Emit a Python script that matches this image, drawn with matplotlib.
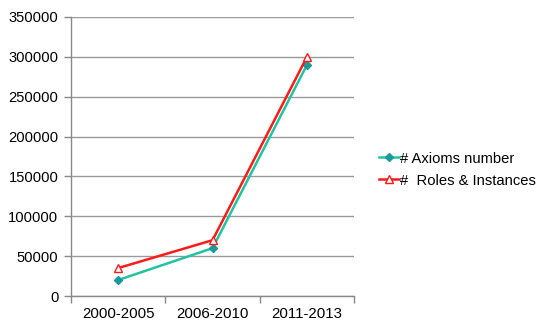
import matplotlib
matplotlib.use("Agg")
import matplotlib.pyplot as plt
from matplotlib.ticker import FixedLocator, NullFormatter

plt.rcParams['font.family'] = ['Liberation Sans', 'DejaVu Sans']

categories = ["2000-2005", "2006-2010", "2011-2013"]
axioms = [20000, 60000, 290000]
roles = [35000, 70000, 300000]
yticks = [0, 50000, 100000, 150000, 200000, 250000, 300000, 350000]

fig = plt.figure(figsize=(5.45, 3.2), dpi=100)
ax = fig.add_axes([0.130, 0.075, 0.520, 0.872])

x = list(range(len(categories)))
ax.plot(x, axioms, color='#22C4A0', lw=1.8, marker='D', ms=4,
        markerfacecolor='#1A9A9A', markeredgecolor='#1A9A9A',
        label='# Axioms number', zorder=3)
ax.plot(x, roles, color='#FF1A1A', lw=1.8, marker='^', ms=6,
        markerfacecolor='white', markeredgecolor='#FF1A1A',
        label='#  Roles & Instances', zorder=3)

ax.set_xlim(-0.5, len(categories) - 0.5)
ax.set_ylim(0, 350000)
ax.set_yticks(yticks)
ax.set_yticklabels([str(v) for v in yticks], fontsize=10.6)
ax.set_xticks(x)
ax.set_xticklabels(categories, fontsize=10.8)
ax.tick_params(axis='x', which='major', length=0, pad=8)
ax.xaxis.set_minor_locator(FixedLocator([i - 0.5 for i in range(len(categories) + 1)]))
ax.xaxis.set_minor_formatter(NullFormatter())
ax.tick_params(axis='x', which='minor', length=5, color='#888888', width=1)
ax.tick_params(axis='y', length=5, color='#888888', width=1, pad=4)

ax.grid(axis='y', color='#999999', lw=1)
ax.set_axisbelow(True)
for s in ['top', 'right']:
    ax.spines[s].set_visible(False)
for s in ['left', 'bottom']:
    ax.spines[s].set_color('#888888')
    ax.spines[s].set_linewidth(1)

fig.legend(loc='center left', bbox_to_anchor=(0.695, 0.47), frameon=False,
           fontsize=10.6, handlelength=1.4, handletextpad=0.05, labelspacing=0.55,
           borderaxespad=0, borderpad=0)

fig.savefig("out.png", dpi=100, facecolor='white')
